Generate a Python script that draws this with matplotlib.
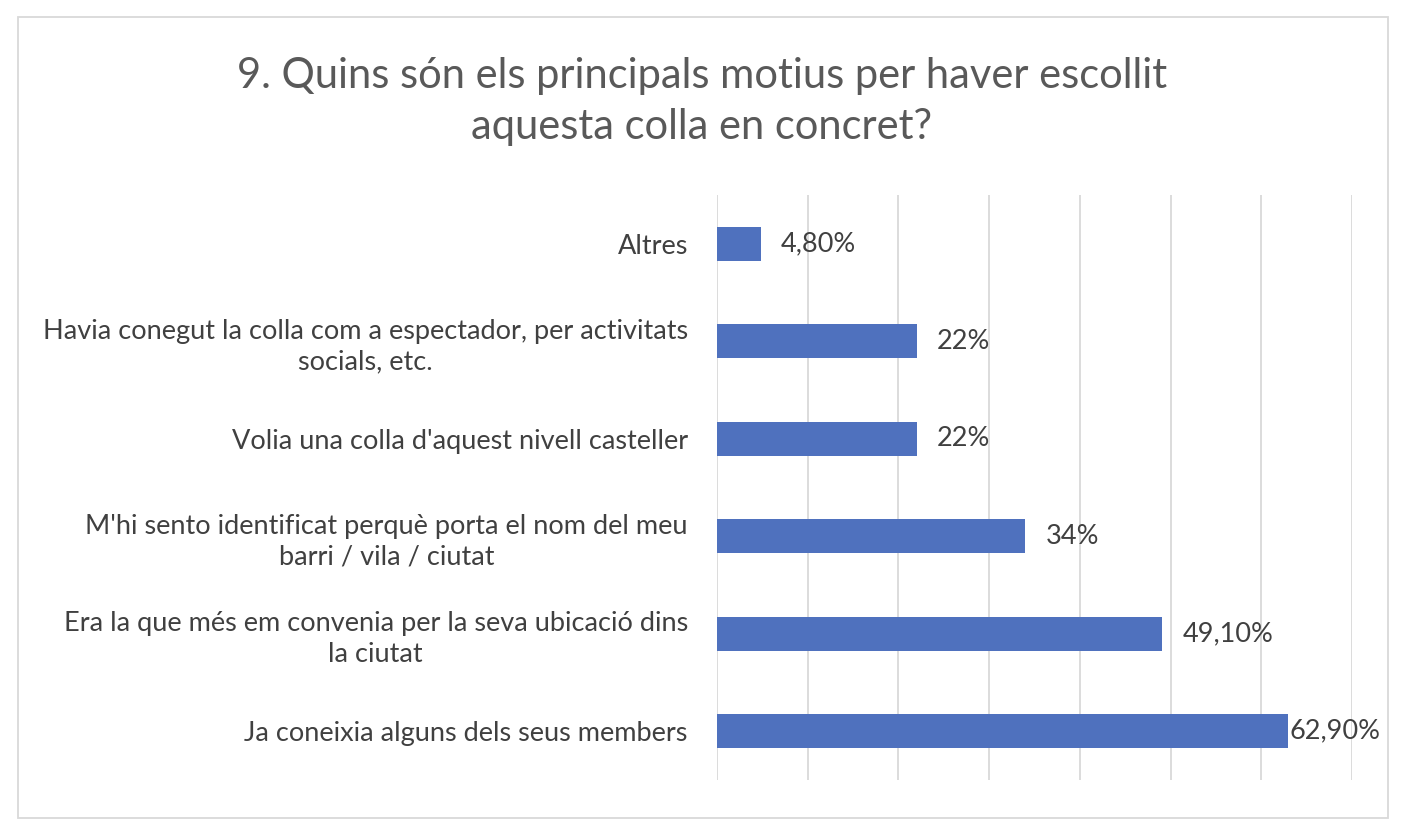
import matplotlib.pyplot as plt
from matplotlib.patches import Rectangle

plt.rcParams['font.family'] = ['Lato', 'DejaVu Sans']

# data, bottom-to-top as drawn
categories = [
    "Ja coneixia alguns dels seus members",
    "Era la que més em convenia per la seva ubicació dins\nla ciutat",
    "M'hi sento identificat perquè porta el nom del meu\nbarri / vila / ciutat",
    "Volia una colla d'aquest nivell casteller",
    "Havia conegut la colla com a espectador, per activitats\nsocials, etc.",
    "Altres",
]
values = [62.9, 49.1, 34, 22, 22, 4.8]
value_labels = ["62,90%", "49,10%", "34%", "22%", "22%", "4,80%"]

title = "9. Quins són els principals motius per haver escollit\naquesta colla en concret?"

fig = plt.figure(figsize=(14.04, 8.38), dpi=100)
ax = fig.add_axes([0.5107, 0.0692, 0.4523, 0.6981])

y = range(len(categories))
bars = ax.barh(y, values, height=0.35, color='#4F71BE', zorder=3)

XMAX = 70
for b, lab in zip(bars, value_labels):
    w = b.get_width()
    # Excel pulls the label back in when it would run past the chart edge
    x = w + 2.2 if w + 2.2 + 9 < XMAX else w + 0.2
    ax.text(x, b.get_y() + b.get_height() / 2, lab,
            va='center', ha='left', fontsize=19.5, color='#404040')

ax.set_xlim(0, XMAX)
ax.set_ylim(-0.5, len(categories) - 0.5)
ax.set_xticks(range(0, XMAX + 1, 10))
ax.set_xticklabels([])
ax.tick_params(axis='x', length=0)
ax.xaxis.grid(True, color='#D9D9D9', linewidth=1.3, zorder=0)
ax.set_yticks(list(y))
ax.set_yticklabels(categories, fontsize=19.5, color='#404040',
                   multialignment='center', linespacing=1.3)
ax.tick_params(axis='y', length=0, pad=21)
for s in ax.spines.values():
    s.set_visible(False)

fig.text(0.5, 0.879, title, ha='center', va='center', fontsize=30,
         color='#595959', linespacing=1.42)

# outer chart border
fig.patches.append(Rectangle((0.0128, 0.0239), 0.9758, 0.9558, transform=fig.transFigure,
                             fill=False, edgecolor='#D9D9D9', linewidth=1.3))

fig.savefig('out.png', dpi=100)
